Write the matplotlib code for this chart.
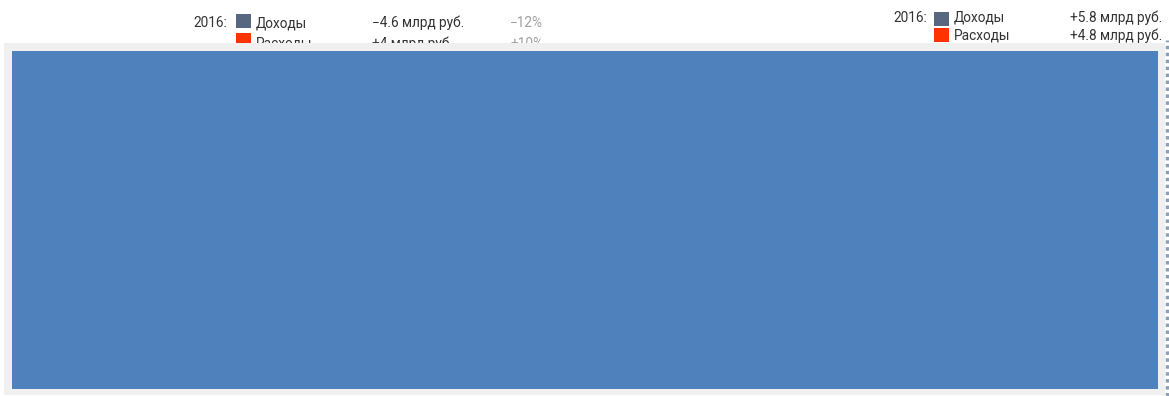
import matplotlib
matplotlib.use("Agg")
import matplotlib.pyplot as plt
from matplotlib.patches import Rectangle
from matplotlib.lines import Line2D

W, H = 1169, 396

# legend blocks
year = "2016:"
series = ["Доходы", "Расходы"]
series_colors = ["#56677f", "#ff3300"]
left_changes = ["−4.6 млрд руб.", "+4 млрд руб."]
left_pct = ["−12%", "+10%"]
right_changes = ["+5.8 млрд руб.", "+4.8 млрд руб."]

# single block in the main area
block_names = ["Бюджет"]
block_values = [1.0]

plt.rcParams['font.family'] = ['Roboto', 'DejaVu Sans']

fig = plt.figure(figsize=(W / 100, H / 100), dpi=100)
fig.patch.set_facecolor("white")


def px(x, y):
    # pixel coords from top-left to figure fraction
    return x / W, 1 - y / H


def legend_block(x0, y_rows, sq_rows, sq_x, val_x, values, pct_x=None, pcts=None, val_ha="left"):
    fx, fy = px(x0, y_rows[0])
    fig.text(fx, fy, year, fontsize=9.8, color="#333333", va="center", ha="left", zorder=1)
    for i, name in enumerate(series):
        y = y_rows[i]
        sx, sy = px(sq_x, sq_rows[i] + 14)
        fig.patches.append(Rectangle((sx, sy), 15 / W, 14 / H, transform=fig.transFigure,
                                     facecolor=series_colors[i], edgecolor="none", zorder=1))
        tx, ty = px(sq_x + 20, y)
        fig.text(tx, ty, name, fontsize=9.8, color="#333333", va="center", ha="left", zorder=1)
        vx, vy = px(val_x, y)
        fig.text(vx, vy, values[i], fontsize=9.8, color="#333333", va="center", ha=val_ha, zorder=1)
        if pcts is not None:
            qx, qy = px(pct_x, y)
            fig.text(qx, qy, pcts[i], fontsize=9.8, color="#a0a0a0", va="center", ha="right", zorder=1)


legend_block(193, [23, 43.5], [14, 33], 236, 372, left_changes, pct_x=543, pcts=left_pct)
legend_block(893, [18, 36], [12, 28], 934, 1162, right_changes, val_ha="right")

# grey panel covering the lower rows of the legend
panel_x, panel_y = px(4, 395)
fig.patches.append(Rectangle((panel_x, panel_y), 1161 / W, 352 / H, transform=fig.transFigure,
                             facecolor="#f0f0f0", edgecolor="none", zorder=4))

# dotted scroll marker on the right edge
fig.lines.append(Line2D([1167 / W, 1167 / W], [0, 1 - 40 / H], transform=fig.transFigure,
                        color="#8c9fb5", lw=2.5, ls=(0, (1, 1)), zorder=4))

ax = fig.add_axes([12 / W, 1 - 389 / H, 1146 / W, 338 / H], zorder=5)
ax.barh(block_names, block_values, height=1.0, color="#4f81bd", edgecolor="none")
ax.set_xlim(0, sum(block_values))
ax.set_ylim(-0.5, 0.5)
ax.axis("off")

fig.savefig("out.png", dpi=100)
